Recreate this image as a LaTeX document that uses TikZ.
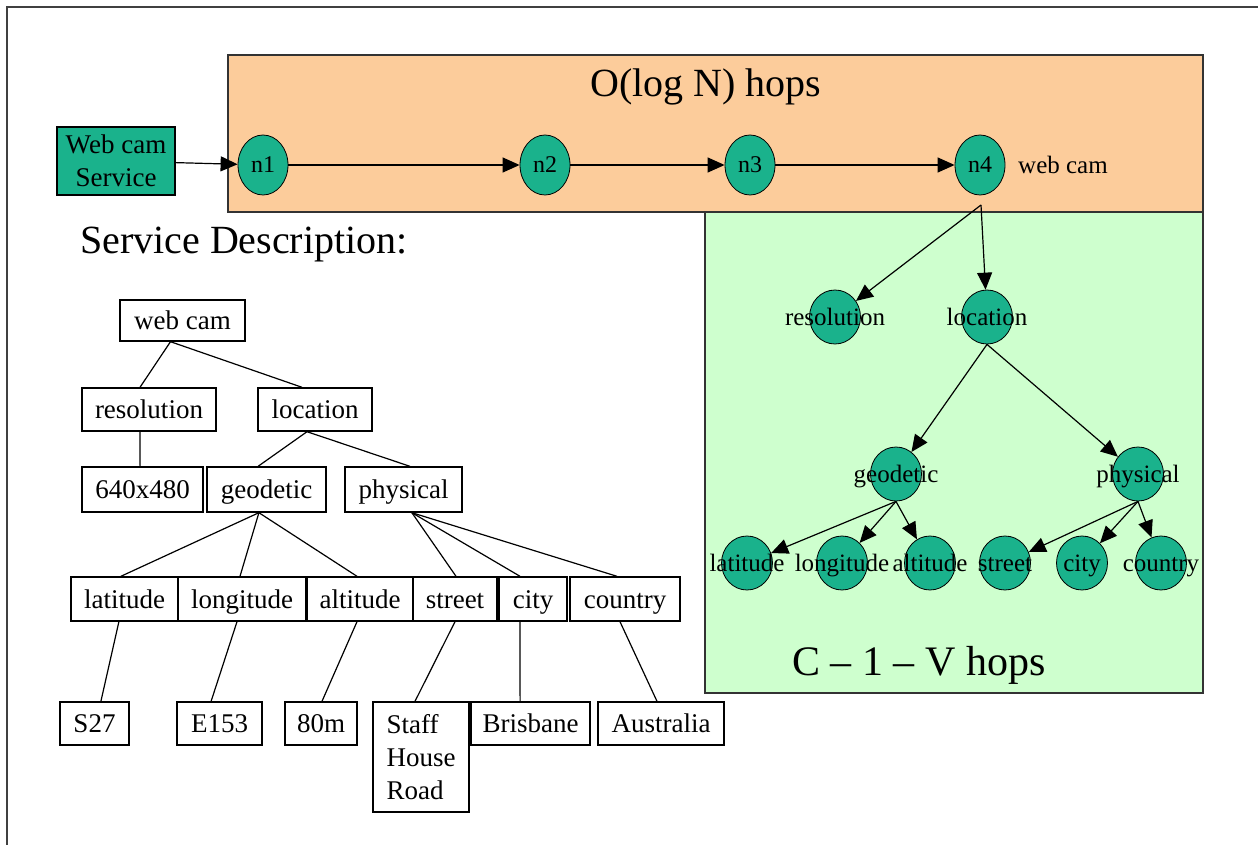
\documentclass[tikz,border=0pt]{standalone}
\usepackage{fontspec}
\setmainfont{Liberation Serif}
\usetikzlibrary{arrows.meta,shapes}
\definecolor{hopteal}{RGB}{26,178,140}
\definecolor{hoporange}{RGB}{252,204,155}
\definecolor{hopgreen}{RGB}{206,255,206}
\tikzstyle{plainbox}=[draw,line width=0.7pt,inner sep=0pt,minimum height=21.5pt,font=\fontsize{13.5}{16.5}\selectfont]
\tikzstyle{keybox}=[plainbox,text height=10.5pt,text depth=1.5pt]
\tikzstyle{hop}=[ellipse,draw,fill=hopteal,minimum width=25pt,minimum height=30pt,inner sep=0pt,font=\fontsize{12}{14}\selectfont]
\tikzstyle{tnode}=[ellipse,draw,fill=hopteal,minimum width=25.5pt,minimum height=27pt,inner sep=0pt]
\tikzstyle{tedge} = [draw,line width=0.6pt,-]
\tikzstyle{arrow} = [draw,line width=0.6pt,-{Triangle[length=8.5pt,width=7.5pt]}]

\begin{document}
\begin{tikzpicture}[x=0.5pt,y=-0.5pt,every label/.style={inner sep=0pt,text height=9.5pt,text depth=1.5pt,font=\fontsize{12.5}{14}\selectfont}]
        \useasboundingbox (0,0) rectangle (1258,845);
        \draw[black!75,line width=0.7pt] (7,845) -- (7,7) -- (1258,7);

        % the two hop regions
        \draw[black!80,line width=0.7pt,fill=hoporange] (228,55) rectangle (1203,212);
        \draw[black!80,line width=0.7pt,fill=hopgreen] (705,212) rectangle (1203,693);
        \node[font=\fontsize{20}{24}\selectfont] (logn) at (706,87) {O(log N) hops};
        \node[font=\fontsize{21}{25}\selectfont] (cvhops) at (919,665) {C – 1 – V hops};

        % overlay route
        \node[plainbox,fill=hopteal,minimum width=59pt,minimum height=34pt,align=center] (svc) at (116,161) {Web cam\\Service};
        \node[hop] (n1) at (263,165) {n1};
        \node[hop] (n2) at (545,165) {n2};
        \node[hop] (n3) at (750,165) {n3};
        \node[hop] (n4) at (980,165) {n4};
        \node[font=\fontsize{12.5}{14}\selectfont] (n4name) at (1063,165) {web cam};
        \draw[arrow] (svc) -- (n1);
        \draw[arrow] (n1) to (n2);
        \draw[arrow] (n2) to (n3);
        \draw[arrow] (n3) to (n4);

        % description tree in the overlay
        \coordinate (n4foot) at (981,205);
        \node[tnode,label={center:resolution}] (tres) at (835,317) {};
        \node[tnode,label={center:location}] (tloc) at (987,317) {};
        \node[tnode,label={center:geodetic}] (tgeo) at (896,474) {};
        \node[tnode,label={center:physical}] (tphy) at (1138,474) {};
        \node[tnode,label={center:latitude}] (tlat) at (747,563) {};
        \node[tnode,label={center:longitude}] (tlon) at (842,563) {};
        \node[tnode,label={center:altitude}] (talt) at (930,563) {};
        \node[tnode,label={center:street}] (tstr) at (1005,563) {};
        \node[tnode,label={center:city}] (tcity) at (1082,563) {};
        \node[tnode,label={center:country}] (tctry) at (1161,563) {};
        \draw[arrow] (n4foot) to (tres);
        \draw[arrow] (n4foot) to (tloc);
        \draw[arrow] (tloc.south) to (tgeo);
        \draw[arrow] (tloc.south) to (tphy);
        \draw[arrow] (tgeo.south) to (tlat);
        \draw[arrow] (tgeo.south) to (tlon);
        \draw[arrow] (tgeo.south) to (talt);
        \draw[arrow] (tphy.south) to (tstr);
        \draw[arrow] (tphy.south) to (tcity);
        \draw[arrow] (tphy.south) to (tctry);

        % service description
        \node[anchor=west,font=\fontsize{20}{24}\selectfont] (sdesc) at (73,245) {Service Description:};
        \node[keybox,minimum width=62.5pt,minimum height=20.5pt] (kcam) at (182.5,320.5) {web cam};
        \node[keybox,minimum width=67pt] (kres) at (149,409.5) {resolution};
        \node[keybox,minimum width=57pt] (kloc) at (315,409.5) {location};
        \node[keybox,minimum width=60.5pt,minimum height=22.5pt] (kpix) at (142.5,489.5) {640x480};
        \node[keybox,minimum width=59.5pt,minimum height=22.5pt] (kgeo) at (266.5,489.5) {geodetic};
        \node[keybox,minimum width=58.5pt,minimum height=22.5pt] (kphy) at (403.5,489.5) {physical};
        \node[keybox,minimum width=53.5pt,minimum height=22pt] (klat) at (124.5,599) {latitude};
        \node[keybox,minimum width=64pt,minimum height=22pt] (klon) at (242,599) {longitude};
        \node[keybox,minimum width=53pt,minimum height=22pt] (kalt) at (360,599) {altitude};
        \node[keybox,minimum width=42pt,minimum height=22pt] (kstr) at (455,599) {street};
        \node[keybox,minimum width=34pt,minimum height=22pt] (kcity) at (533,599) {city};
        \node[keybox,minimum width=55pt,minimum height=22pt] (kctry) at (625,599) {country};
        \node[keybox,minimum width=34.5pt] (vlat) at (94.5,723.5) {S27};
        \node[keybox,minimum width=42.5pt] (vlon) at (219.5,723.5) {E153};
        \node[keybox,minimum width=36pt] (valt) at (321,723.5) {80m};
        \node[plainbox,minimum width=48pt,minimum height=55pt,align=left] (vstr) at (421,757) {Staff\\House\\Road};
        \node[keybox,minimum width=59.5pt] (vcity) at (530.5,723.5) {Brisbane};
        \node[keybox,minimum width=63pt] (vctry) at (661,723.5) {Australia};

        \draw[tedge] ([xshift=-6pt]kcam.south) to ([xshift=-4.5pt]kres.north);
        \draw[tedge] ([xshift=-6pt]kcam.south) to ([xshift=-6.5pt]kloc.north);
        \draw[tedge] ([xshift=-4.5pt]kres.south) to ([xshift=-1.2pt]kpix.north);
        \draw[tedge] ([xshift=-4pt]kloc.south) to ([xshift=-4.2pt]kgeo.north);
        \draw[tedge] ([xshift=-4pt]kloc.south) to ([xshift=3.2pt]kphy.north);
        \draw[tedge] ([xshift=-3.8pt]kgeo.south) to ([xshift=-1.8pt]klat.north);
        \draw[tedge] ([xshift=-3.8pt]kgeo.south) to ([xshift=-1pt]klon.north);
        \draw[tedge] ([xshift=-3.8pt]kgeo.south) to ([xshift=-1.5pt]kalt.north);
        \draw[tedge] ([xshift=4.2pt]kphy.south) to ([xshift=0.5pt]kstr.north);
        \draw[tedge] ([xshift=4.2pt]kphy.south) to ([xshift=-6.5pt]kcity.north);
        \draw[tedge] ([xshift=4.2pt]kphy.south) to ([xshift=-4pt]kctry.north);
        \draw[tedge] ([xshift=-2.8pt]klat.south) to ([xshift=3.2pt]vlat.north);
        \draw[tedge] ([xshift=-2.5pt]klon.south) to ([xshift=-4.2pt]vlon.north);
        \draw[tedge] ([xshift=-1.5pt]kalt.south) to ([xshift=0.5pt]valt.north);
        \draw[tedge] (kstr.south) to ([xshift=-3pt]vstr.north);
        \draw[tedge] ([xshift=-6.5pt]kcity.south) to ([xshift=-5.2pt]vcity.north);
        \draw[tedge] ([xshift=-2.5pt]kctry.south) to ([xshift=-2pt]vctry.north);
      \end{tikzpicture}
\end{document}
